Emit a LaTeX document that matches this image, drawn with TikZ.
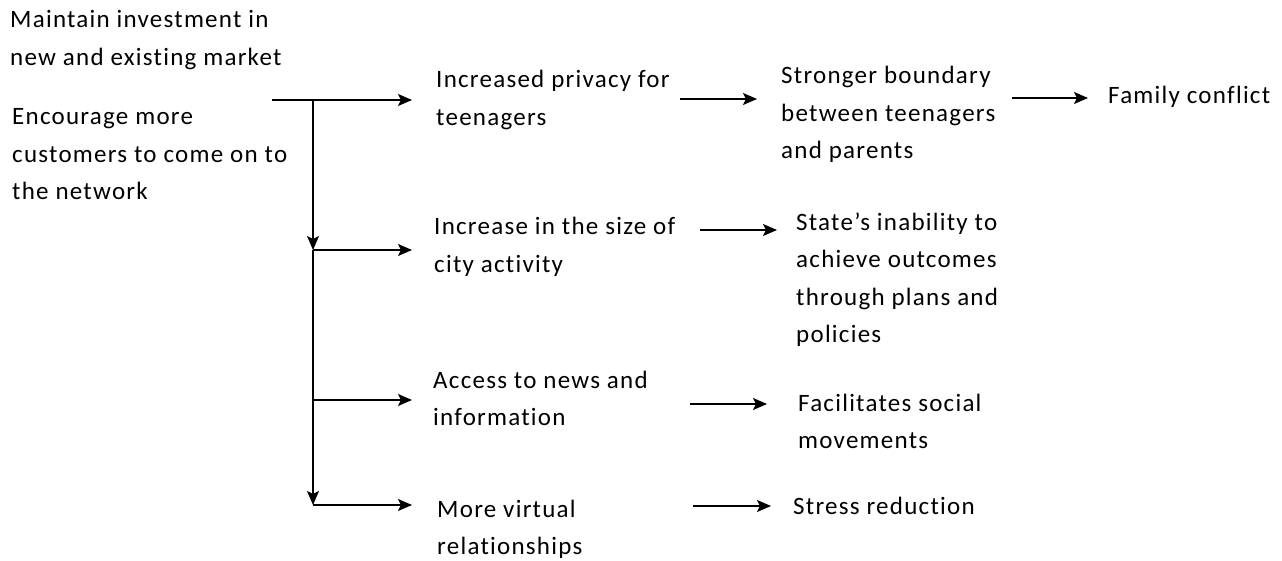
\documentclass[tikz,border=0pt]{standalone}
\usepackage{fontspec}
\setmainfont[LetterSpace=5,Ligatures=NoCommon]{Carlito}
\usetikzlibrary{arrows.meta}
\begin{document}
\begin{tikzpicture}[x=1pt,y=-1pt,
  txt/.style={anchor=base west,inner sep=0pt,align=left,font=\fontsize{25}{37.5}\selectfont},
  arr/.style={-{Stealth[length=14pt,width=12pt,inset=3pt]},line width=1.4pt}]
\useasboundingbox (0,0) rectangle (1282,561);
\node[txt] (n1) at (10,65.5) {Maintain investment in\\new and existing market};
\node[txt] (n2) at (12,200) {Encourage more\\customers to come on to\\the network};
\node[txt] (a1) at (436,125.5) {Increased privacy for\\teenagers};
\node[txt] (a2) at (434,272.5) {Increase in the size of\\city activity};
\node[txt] (a3) at (433,425.5) {Access to news and\\information};
\node[txt] (a4) at (437,554.5) {More virtual\\relationships};
\node[txt] (b1) at (781,159) {Stronger boundary\\between teenagers\\and parents};
\node[txt] (b2) at (796,342.5) {State’s inability to\\achieve outcomes\\through plans and\\policies};
\node[txt] (b3) at (798,448.5) {Facilitates social\\movements};
\node[txt] (b4) at (793,514) {Stress reduction};
\node[txt] (c1) at (1108,104) {Family conflict};
\coordinate (s) at (272,100);
\coordinate (j1) at (313,100);
\coordinate (j2) at (313,250);
\coordinate (j3) at (313,400);
\coordinate (j4) at (313,505);
\draw[arr] (s) -- ([xshift=-24pt]a1.west |- j1);
\draw[arr] (j1) -- (j2);
\draw[arr] (j2) -- (j4);
\draw[arr] (j2) -- ([xshift=-22pt]a2.west |- j2);
\draw[arr] (j3) -- ([xshift=-21pt]a3.west |- j3);
\draw[arr] (j4) -- ([xshift=-25pt]a4.west |- j4);
\coordinate (r1) at (680,99);
\coordinate (r2) at (700,230);
\coordinate (r3) at (690,404);
\coordinate (r4) at (693,506);
\coordinate (r5) at (1012,98);
\draw[arr] (r1) -- ([xshift=-24pt]b1.west |- r1);
\draw[arr] (r2) -- ([xshift=-19pt]b2.west |- r2);
\draw[arr] (r3) -- ([xshift=-31pt]b3.west |- r3);
\draw[arr] (r4) -- ([xshift=-22pt]b4.west |- r4);
\draw[arr] (r5) -- ([xshift=-20pt]c1.west |- r5);
\end{tikzpicture}
\end{document}
